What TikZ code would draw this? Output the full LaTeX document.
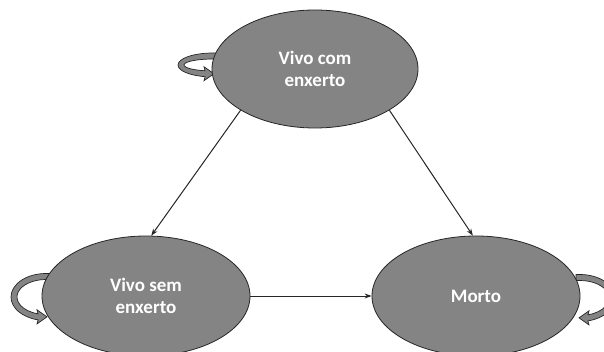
\documentclass[tikz,border=0pt]{standalone}
\usepackage{fontspec}
\setmainfont{Carlito}
\usetikzlibrary{shapes.geometric,arrows.meta}
\definecolor{stategray}{RGB}{132,132,132}
\tikzset{
  state/.style={ellipse, draw=black!85, line width=0.8pt, fill=stategray, text=white,
    inner sep=0pt, align=center, font=\fontsize{19}{22}\selectfont\bfseries},
  trans/.style={draw=black!85, line width=1pt, -{Stealth[length=7pt,width=5pt]}},
  loopband/.style={fill=stategray, draw=black!85, line width=0.7pt},
  pics/selfloop/.style={code={
    \pgfmathsetmacro\rin{#1-6}
    \pgfmathsetmacro\yo{0.974*#1}
    \pgfmathsetmacro\yi{0.961*\rin}
    \filldraw[loopband] (4,{-#1}) -- (0,{-#1})
      arc[start angle=270,end angle=103,x radius=35,y radius=#1]
      -- (-9,{\yo+4}) -- (1,{(\yo+\yi)/2}) -- (-9,{\yi-4}) -- (-8,\yi)
      arc[start angle=106,end angle=270,x radius=29,y radius=\rin]
      -- (4,{-\rin}) -- cycle;
  }}
}
\begin{document}
\begin{tikzpicture}[x=1pt,y=-1pt]
\useasboundingbox (0,0) rectangle (604,352);
\clip (0,0) rectangle (604,352);
\fill[white] (0,0) rectangle (604,352);
% self loops (behind the states)
\pic at (213,65) {selfloop=12};
\pic at (46,297) {selfloop=23.5};
\pic[xscale=-1] at (580,298) {selfloop=23.5};
% states
\node[state, minimum width=206pt, minimum height=118pt] (top) at (315,69) {Vivo com\\enxerto};
\node[state, minimum width=208pt, minimum height=120pt] (vse) at (146,296) {Vivo sem\\enxerto};
\node[state, minimum width=208pt, minimum height=120pt] (morto) at (476,296) {Morto};
% transitions
\draw[trans] (top.209) -- (vse.85);
\draw[trans] (top.331) -- (morto.93);
\draw[trans] (vse.east) -- (morto.west);
\end{tikzpicture}
\end{document}
